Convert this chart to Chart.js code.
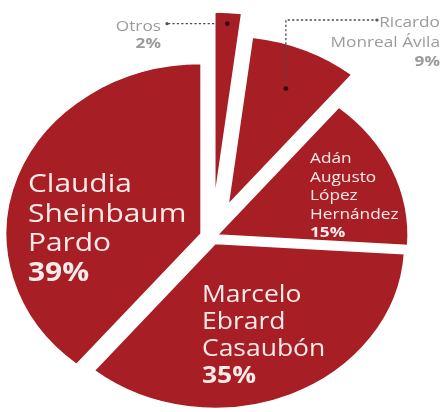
<!DOCTYPE html>
<html><head><meta charset="utf-8">
<script src="https://cdn.jsdelivr.net/npm/chart.js@4.4.0/dist/chart.umd.min.js"></script>
<style>html,body{margin:0;padding:0;background:#fff;overflow:hidden}#wrap{width:443px;height:412px;position:relative}</style>
</head><body><div id="wrap"><canvas id="c" width="443" height="412"></canvas></div>
<script>
// ---- data ----
const categories = ['Otros', 'Ricardo\nMonreal Ávila', 'Adán\nAugusto\nLópez\nHernández', 'Marcelo\nEbrard\nCasaubón', 'Claudia\nSheinbaum\nPardo'];
const shares = [2, 9, 15, 35, 39];
const percentLabels = shares.map(v => v + '%');

// ---- styling ----
const sliceColor = '#a81e25';
const sliceOffsets = [148, 140, 20, 28, 40];   // Chart.js v4 translates by offset/4
const sliceRadii = [188, 169, 166, 165, 170];  // visible outer radius of each slice
const stretchX = 1.15;
const labelStyle = [
  {x: 161, y: 31, size: 15, lh: 17, align: 'right', color: '#9b9b9b'},
  {x: 440, y: 27, size: 15, lh: 19.5, align: 'right', color: '#9b9b9b'},
  {x: 310, y: 163, size: 15, lh: 18.5, align: 'left', color: '#fbeaea'},
  {x: 202, y: 302, size: 23, lh: 27, align: 'left', color: '#fbeaea'},
  {x: 28, y: 192, size: 26, lh: 29.7, align: 'left', color: '#fbeaea'}
];
const leaders = [
  {i: 0, frac: 0.94, path: 'h', toX: 167},
  {i: 1, frac: 0.75, path: 'vh', toY: 20, toX: 377}
];

function radiusFix(arc, i) {
  const fix = 1 - Math.sin(Math.min(Math.PI, arc.circumference));
  return (sliceOffsets[i] / 4) * fix;
}

function arcPoint(arc, i, frac) {
  const mid = (arc.startAngle + arc.endAngle) / 2;
  const off = sliceOffsets[i] / 4;
  const r = sliceRadii[i] * frac;
  const px = arc.x + Math.cos(mid) * (off + r);
  const py = arc.y + Math.sin(mid) * (off + r);
  return {x: arc.x + (px - arc.x) * stretchX, y: py};
}

const shapePlugin = {
  id: 'shape',
  afterDatasetsUpdate(chart) {
    chart.getDatasetMeta(0).data.forEach(a => { a._s0 = a.startAngle; a._e0 = a.endAngle; });
  },
  beforeDatasetsDraw(chart) {
    const arcs = chart.getDatasetMeta(0).data;
    arcs.forEach((a, i) => {
      const rf = radiusFix(a, i);
      a.outerRadius = sliceRadii[i] - rf;
      // undo the angular trimming Chart.js applies for offset arcs
      const widen = rf / (Math.PI * sliceRadii[i]) / 2;
      a.startAngle = a._s0 - widen;
      a.endAngle = a._e0 + widen;
    });
    const cx = arcs[0].x;
    const ctx = chart.ctx;
    ctx.save();
    ctx.translate(cx, 0); ctx.scale(stretchX, 1); ctx.translate(-cx, 0);
  },
  afterDatasetsDraw(chart) {
    const ctx = chart.ctx;
    ctx.restore();
    const arcs = chart.getDatasetMeta(0).data;
    // leader lines
    ctx.save();
    ctx.strokeStyle = '#4a4a4a';
    ctx.lineWidth = 1.3;
    leaders.forEach(l => {
      const p = arcPoint(arcs[l.i], l.i, l.frac);
      ctx.setLineDash([2.2, 2.2]);
      ctx.beginPath();
      ctx.moveTo(p.x, p.y);
      let end;
      if (l.path === 'h') { ctx.lineTo(l.toX, p.y); end = {x: l.toX, y: p.y}; }
      else { ctx.lineTo(p.x, l.toY); ctx.lineTo(l.toX, l.toY); end = {x: l.toX, y: l.toY}; }
      ctx.stroke();
      ctx.setLineDash([]);
      ctx.fillStyle = '#3a0808';
      ctx.beginPath(); ctx.arc(p.x, p.y, 2.4, 0, Math.PI * 2); ctx.fill();
      ctx.fillStyle = '#555';
      ctx.beginPath(); ctx.arc(end.x, end.y, 1.6, 0, Math.PI * 2); ctx.fill();
    });
    ctx.restore();
    // labels
    categories.forEach((name, i) => {
      const s = labelStyle[i];
      const lines = name.split('\n');
      const all = lines.map(t => ({t, bold: false})).concat([{t: percentLabels[i], bold: true}]);
      all.forEach((ln, k) => {
        ctx.save();
        ctx.translate(s.x, s.y + k * s.lh);
        ctx.scale(stretchX, 1);
        ctx.font = (ln.bold ? 'bold ' : '') + s.size + 'px "Open Sans", sans-serif';
        ctx.fillStyle = s.color;
        ctx.textAlign = s.align;
        ctx.textBaseline = 'alphabetic';
        ctx.fillText(ln.t, 0, 0);
        ctx.restore();
      });
    });
  }
};

new Chart(document.getElementById('c'), {
  type: 'pie',
  data: {
    labels: categories,
    datasets: [{
      data: shares,
      backgroundColor: sliceColor,
      borderColor: '#ffffff',
      borderWidth: 1.5,
      offset: sliceOffsets,
      radius: 166
    }]
  },
  options: {
    responsive: false,
    animation: false,
    events: [],
    layout: {padding: {left: 0, right: 19, top: 62, bottom: 0}},
    plugins: {legend: {display: false}, tooltip: {enabled: false}}
  },
  plugins: [shapePlugin]
});
</script></body></html>
